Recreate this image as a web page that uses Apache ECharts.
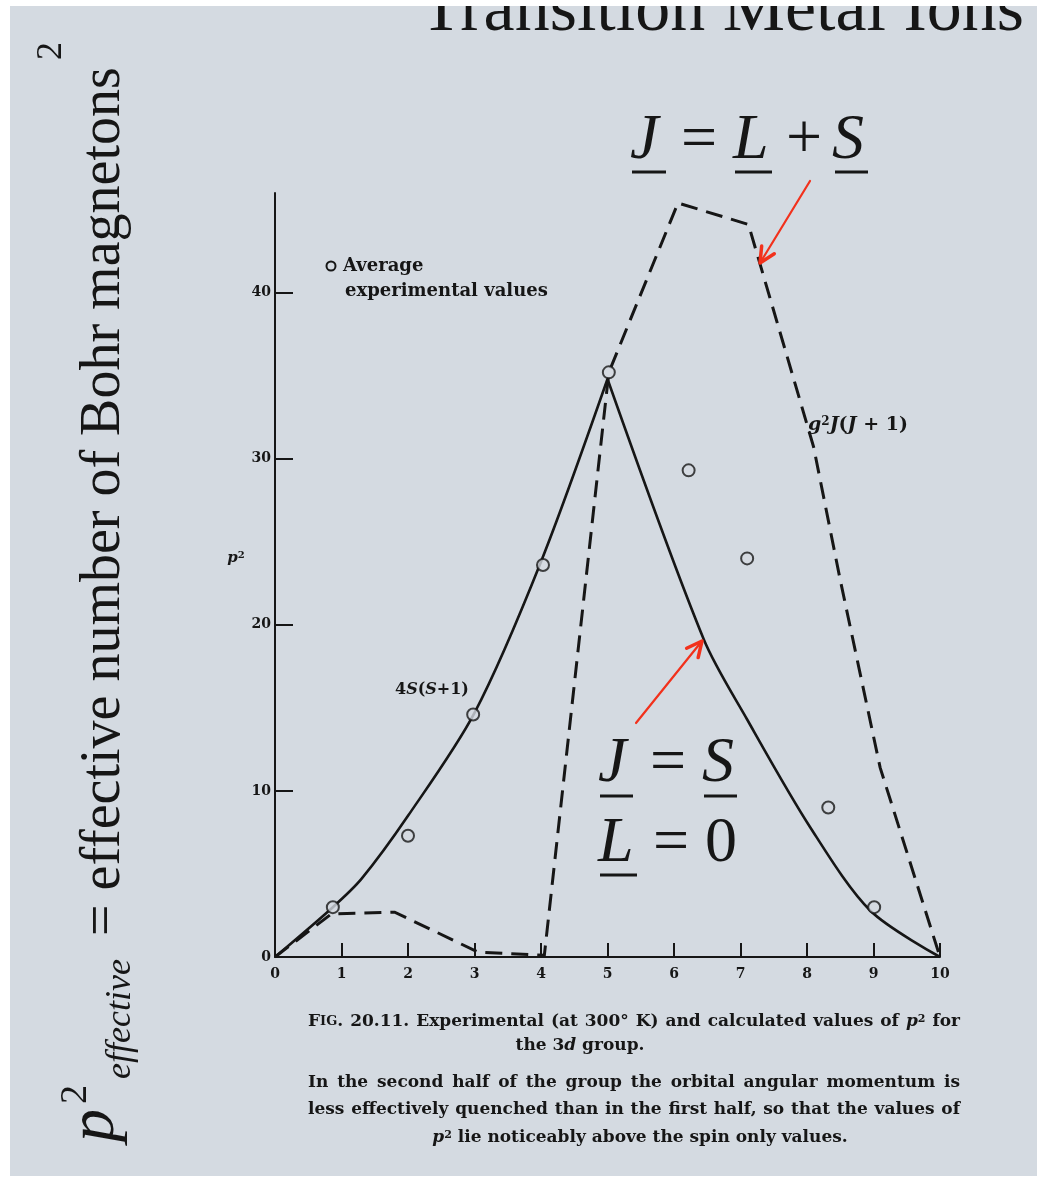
<!DOCTYPE html>
<html>
<head>
<meta charset="utf-8">
<title>Transition Metal Ions – p² for the 3d group</title>
<script src="https://cdn.jsdelivr.net/npm/echarts@6.0.0/dist/echarts.min.js"></script>
<style>
  html, body { margin: 0; padding: 0; background: #ffffff; }
  #chart { width: 1041px; height: 1179px; }
</style>
</head>
<body>
<div id="chart"></div>
<script>
// Spin-only curve 4S(S+1): rising branch (d0 → d5) and falling branch (d5 → d10)
const solidRiseX = [0, 0.87, 1.3, 2.0, 3.0, 4.0, 5.0];
const solidRiseY = [0, 3.0, 4.7, 8.5, 14.7, 23.8, 34.8];
const solidFallX = [5.0, 6.45, 7.1, 8.05, 8.95, 10];
const solidFallY = [34.8, 19.1, 14.3, 7.8, 2.8, 0];

// Full J curve g²J(J+1)
const dashX = [0, 0.85, 1.8, 3.05, 4.05, 5.02, 6.06, 7.12, 8.1, 8.5, 9.1, 10];
const dashY = [0, 2.6, 2.7, 0.3, 0.1, 35.2, 45.4, 44.1, 30.7, 22.7, 11.4, 0];

// Average experimental values (at 300° K)
const expX = [0.87, 2.0, 2.98, 4.03, 5.02, 6.22, 7.1, 8.32, 9.01];
const expY = [3.0, 7.3, 14.6, 23.6, 35.2, 29.3, 24.0, 9.0, 3.0];

// Axis ticks
const xTicks = [0, 1, 2, 3, 4, 5, 6, 7, 8, 9, 10];
const yTickLabels = [0, 10, 20, 30, 40];
const yTickMarks = [10, 20, 30, 40];

const PAPER = '#d4dae1';
const INK = '#161616';
const RED = '#f2311c';
const SERIF = '"Liberation Serif", "Times New Roman", serif';
const PRINT = '"DejaVu Serif", serif';

const pairs = (xs, ys) => xs.map((x, i) => [x, ys[i]]);

function txt(x, y, text, font, opts) {
  opts = opts || {};
  return {
    type: 'text', x: x, y: y, rotation: opts.rotation || 0, z: opts.z || 20, silent: true,
    style: {
      text: text, font: font, fill: opts.fill || INK,
      align: opts.align || 'left', verticalAlign: opts.valign || 'middle',
      textAlign: opts.align || 'left', textVerticalAlign: opts.valign || 'middle',
      rich: opts.rich
    }
  };
}

function uline(x1, x2, y) {
  return { type: 'line', z: 20, silent: true, shape: { x1: x1, y1: y, x2: x2, y2: y },
           style: { stroke: INK, lineWidth: 3 } };
}

function arrow(tx, ty, hx, hy) {
  const a = Math.atan2(hy - ty, hx - tx);
  const L = 17, w = 0.45;
  const p1 = [hx - L * Math.cos(a - w), hy - L * Math.sin(a - w)];
  const p2 = [hx - L * Math.cos(a + w), hy - L * Math.sin(a + w)];
  return [
    { type: 'line', z: 25, silent: true, shape: { x1: tx, y1: ty, x2: hx, y2: hy },
      style: { stroke: RED, lineWidth: 2.2, lineCap: 'round' } },
    { type: 'polyline', z: 25, silent: true, shape: { points: [p1, [hx, hy], p2] },
      style: { stroke: RED, lineWidth: 3.5, lineCap: 'round', lineJoin: 'round', fill: null } }
  ];
}

// caption typography
const CAP = 17;
const capStyles = {
  n: { font: 'bold ' + CAP + 'px ' + PRINT, fill: INK },
  i: { font: 'italic bold ' + CAP + 'px ' + PRINT, fill: INK },
  c: { font: 'bold ' + Math.round(CAP * 0.78) + 'px ' + PRINT, fill: INK },
  s: { font: 'bold ' + Math.round(CAP * 0.64) + 'px ' + PRINT, fill: INK, verticalAlign: 'top' }
};
const measureCtx = document.createElement('canvas').getContext('2d');
function partWidth(part) {
  measureCtx.font = capStyles[part[1]].font;
  return measureCtx.measureText(part[0]).width;
}
function richOf(parts) {
  return parts.map(p => '{' + p[1] + '|' + p[0] + '}').join('');
}
// a caption line given as words, each word a list of [text, style] parts
function parseWords(line) {
  return line.split(' ').map(w => {
    const parts = [];
    const re = /\[(\w)\|([^\]]*)\]|([^\[]+)/g;
    let m;
    while ((m = re.exec(w)) !== null) {
      if (m[1]) parts.push([m[2], m[1]]); else parts.push([m[3], 'n']);
    }
    return parts;
  });
}
function justifiedLine(line, x0, x1, y) {
  const words = parseWords(line);
  const widths = words.map(ps => ps.reduce((s, p) => s + partWidth(p), 0));
  const total = widths.reduce((a, b) => a + b, 0);
  const gap = (x1 - x0 - total) / (words.length - 1);
  const out = [];
  let x = x0;
  words.forEach((ps, k) => {
    out.push(txt(x, y, richOf(ps), capStyles.n.font, { rich: capStyles }));
    x += widths[k] + gap;
  });
  return out;
}
function centredLine(line, cx, y) {
  const words = parseWords(line);
  const parts = [];
  words.forEach((ps, k) => { if (k) parts.push([' ', 'n']); ps.forEach(p => parts.push(p)); });
  return txt(cx, y, richOf(parts), capStyles.n.font, { align: 'center', rich: capStyles });
}

const graphics = [
  // running head
  txt(420, 12, 'Transition Metal Ions', '70px ' + SERIF),

  // vertical axis description
  txt(96, 1142, 'p', 'italic 66px ' + SERIF, { rotation: Math.PI / 2 }),
  txt(76, 1104, '2', '38px ' + SERIF, { rotation: Math.PI / 2 }),
  txt(121, 1079, 'effective', 'italic 36px ' + SERIF, { rotation: Math.PI / 2 }),
  txt(104, 936, '= effective number of Bohr magnetons', '56px ' + SERIF, { rotation: Math.PI / 2 }),
  txt(52, 60, '2', '36px ' + SERIF, { rotation: Math.PI / 2 }),

  // J = L + S
  txt(630, 141, 'J', 'italic 64px ' + SERIF),
  txt(681, 141, '=', '64px ' + SERIF),
  txt(733, 141, 'L', 'italic 64px ' + SERIF),
  txt(786, 141, '+', '64px ' + SERIF),
  txt(832, 141, 'S', 'italic 64px ' + SERIF),
  uline(632, 666, 172), uline(735, 772, 172), uline(835, 868, 172),

  // J = S, L = 0
  txt(598, 764, 'J', 'italic 64px ' + SERIF),
  txt(650, 764, '=', '64px ' + SERIF),
  txt(702, 764, 'S', 'italic 64px ' + SERIF),
  txt(598, 844, 'L', 'italic 64px ' + SERIF),
  txt(653, 844, '=', '64px ' + SERIF),
  txt(705, 844, '0', '64px ' + SERIF),
  uline(600, 633, 796), uline(704, 737, 796), uline(600, 637, 875),

  // legend
  { type: 'circle', z: 20, silent: true, shape: { cx: 331, cy: 266, r: 4.5 },
    style: { fill: PAPER, stroke: INK, lineWidth: 2 } },
  txt(343, 266, 'Average', 'bold 18px ' + PRINT),
  txt(345, 291, 'experimental values', 'bold 18px ' + PRINT),

  // curve labels
  txt(395, 690, '{n|4}{i|S}{n|(}{i|S}{n|+1)}', 'bold 16px ' + PRINT, {
    rich: { n: { font: 'bold 16px ' + PRINT, fill: INK }, i: { font: 'italic bold 16px ' + PRINT, fill: INK } } }),
  txt(808, 425, '{i|g}{s|2}{i|J}{n|(}{i|J}{n| + 1)}', 'bold 19px ' + PRINT, {
    rich: { n: { font: 'bold 19px ' + PRINT, fill: INK }, i: { font: 'italic bold 19px ' + PRINT, fill: INK },
            s: { font: 'bold 12px ' + PRINT, fill: INK, verticalAlign: 'top' } } }),
  txt(236, 558, '{i|p}{s|2}', 'bold 15px ' + PRINT, {
    align: 'center',
    rich: { i: { font: 'italic bold 15px ' + PRINT, fill: INK }, s: { font: 'bold 10px ' + PRINT, fill: INK, verticalAlign: 'top' } } }),

  // figure caption
  centredLine('the 3[i|d] group.', 580, 1046),
  centredLine('[i|p][s|2] lie noticeably above the spin only values.', 640, 1138),

  // page edges
  { type: 'rect', z: 50, silent: true, shape: { x: 0, y: 0, width: 1041, height: 6 }, style: { fill: '#ffffff' } },
  { type: 'rect', z: 50, silent: true, shape: { x: 0, y: 0, width: 10, height: 1179 }, style: { fill: '#ffffff' } },
  { type: 'rect', z: 50, silent: true, shape: { x: 0, y: 1176, width: 1041, height: 3 }, style: { fill: '#ffffff' } },
  { type: 'rect', z: 50, silent: true, shape: { x: 1037, y: 0, width: 4, height: 1179 }, style: { fill: '#ffffff' } }
].concat(
  justifiedLine('F[c|IG]. 20.11. Experimental (at 300° K) and calculated values of [i|p][s|2] for', 308, 960, 1022),
  justifiedLine('In the second half of the group the orbital angular momentum is', 308, 960, 1083),
  justifiedLine('less effectively quenched than in the first half, so that the values of', 308, 960, 1110),
  arrow(810, 181, 760, 263), arrow(636, 723, 702, 641)
);

const solidStyle = { color: INK, width: 2.6, join: 'round' };

const chart = echarts.init(document.getElementById('chart'), null, { renderer: 'canvas' });
chart.setOption({
  backgroundColor: PAPER,
  animation: false,
  grid: { left: 275, right: 101, top: 193, bottom: 222, containLabel: false },
  xAxis: {
    type: 'value', min: 0, max: 10, interval: 1,
    axisLine: { show: true, lineStyle: { color: INK, width: 2 } },
    axisTick: { show: true, inside: true, length: 14, lineStyle: { color: INK, width: 2 } },
    axisLabel: { margin: 10, color: INK, fontFamily: PRINT, fontWeight: 'bold', fontSize: 14, customValues: xTicks },
    splitLine: { show: false }
  },
  yAxis: {
    type: 'value', min: 0, max: 46, interval: 10,
    axisLine: { show: true, lineStyle: { color: INK, width: 2 } },
    axisTick: { show: true, inside: true, length: 18, lineStyle: { color: INK, width: 2 }, customValues: yTickMarks },
    axisLabel: { margin: 4, color: INK, fontFamily: PRINT, fontWeight: 'bold', fontSize: 14, customValues: yTickLabels },
    splitLine: { show: false }
  },
  series: [
    {
      name: '4S(S+1)', type: 'line', data: pairs(solidRiseX, solidRiseY),
      symbol: 'none', smooth: 0.3, z: 3, lineStyle: solidStyle
    },
    {
      name: '4S(S+1) ', type: 'line', data: pairs(solidFallX, solidFallY),
      symbol: 'none', smooth: 0.3, z: 3, lineStyle: solidStyle
    },
    {
      name: 'g²J(J+1)', type: 'line', data: pairs(dashX, dashY),
      symbol: 'none', smooth: false, z: 2,
      lineStyle: { color: INK, width: 3, type: [17, 9], join: 'miter' }
    },
    {
      name: 'Average experimental values', type: 'scatter', data: pairs(expX, expY),
      symbol: 'circle', symbolSize: 12, z: 5,
      itemStyle: { color: PAPER, borderColor: INK, borderWidth: 2 }
    }
  ],
  graphic: graphics
});
</script>
</body>
</html>
